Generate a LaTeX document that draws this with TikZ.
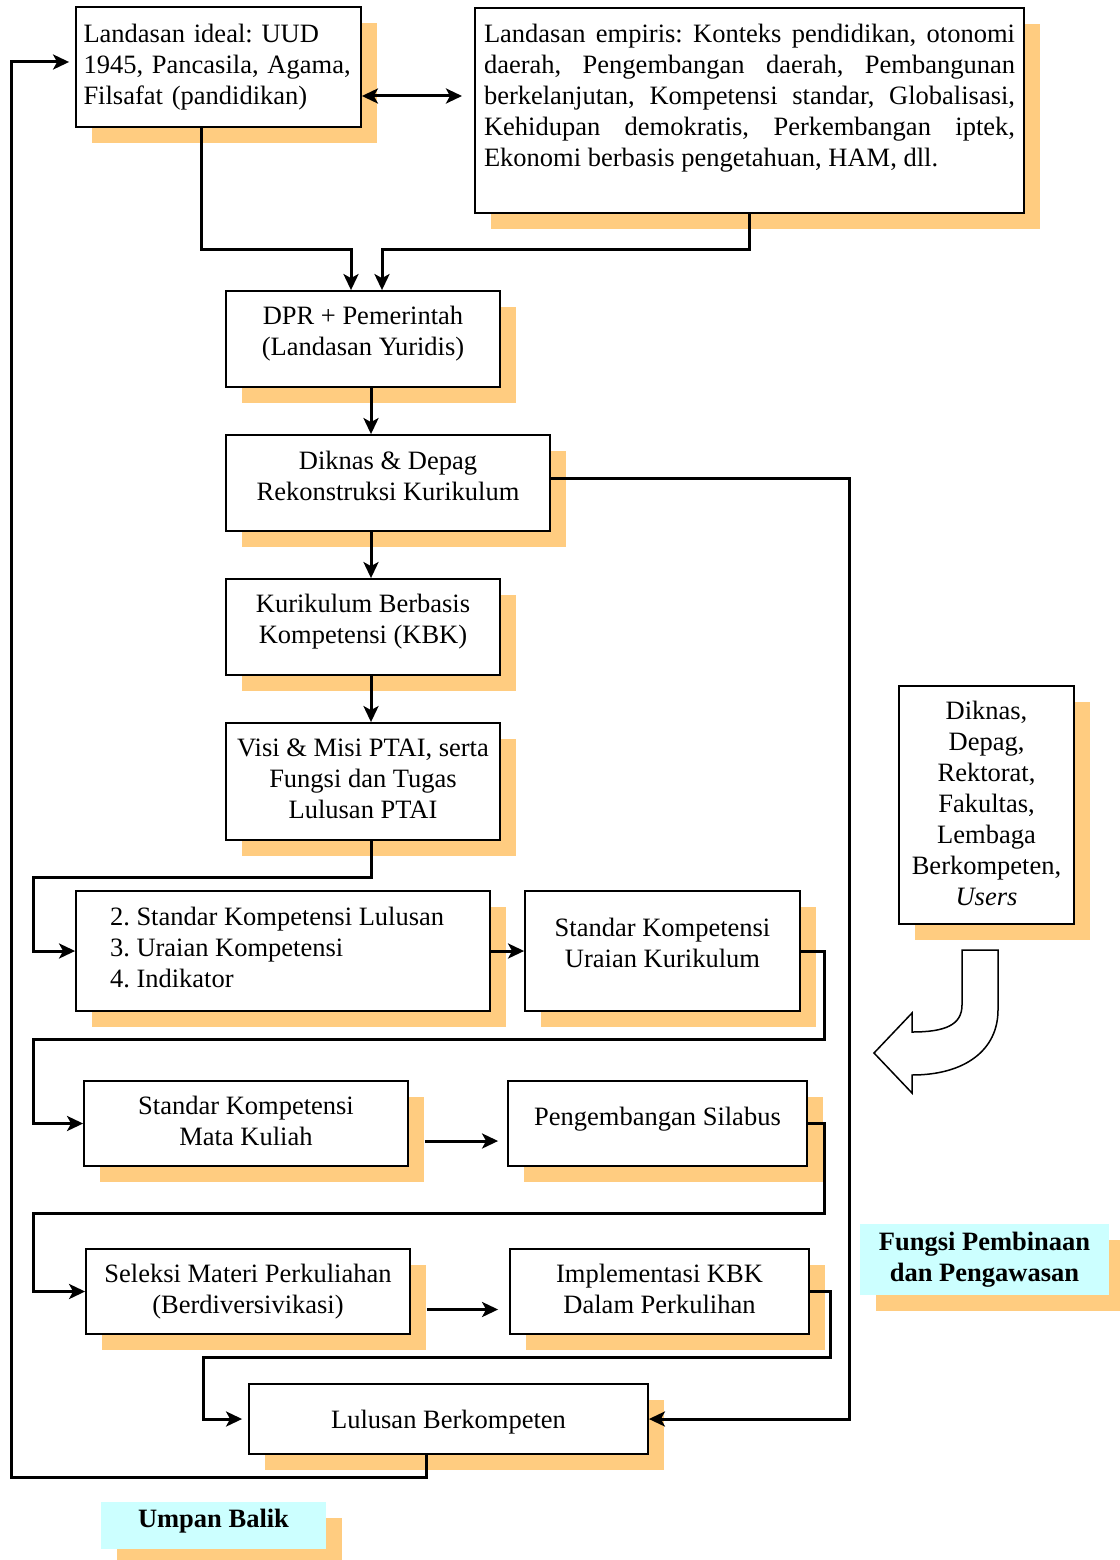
\documentclass[tikz,border=0pt]{standalone}
\usepackage{fontspec}
\setmainfont{Liberation Serif}
\usepackage{tikz}
\usetikzlibrary{arrows.meta,shadows,positioning}
\definecolor{shade}{RGB}{255,204,128}
\definecolor{tagcyan}{RGB}{204,255,255}
\frenchspacing

\begin{document}
\begin{tikzpicture}[
	x=1pt, y=-1pt,
	font=\fontsize{26.5}{31}\selectfont,
	>={Stealth[length=16pt,width=15pt,inset=4pt]},
	box/.style={draw, line width=1.8pt, fill=white, inner sep=0pt, general shadow={fill=shade, shadow xshift=16pt, shadow yshift=-16pt}},
	tagbox/.style={fill=tagcyan, inner sep=0pt, align=center, font=\fontsize{26.5}{31}\selectfont\bfseries, general shadow={fill=shade, shadow xshift=16pt, shadow yshift=-16pt}},
	link/.style={line width=3pt},
]
\useasboundingbox (0,0) rectangle (1119,1560);

\node[box, minimum width=285, minimum height=120, text width=270, align=left] (ideal) at (218.5,67) {Landasan ideal: UUD\\ 1945, Pancasila, Agama,\\ Filsafat (pandidikan)};
\node[box, minimum width=549, minimum height=205, text width=531, align=justify] (empiris) at (749.5,110.5) {Landasan empiris: Konteks pendidikan, otonomi\linebreak daerah, Pengembangan daerah, Pembangunan\linebreak berkelanjutan, Kompetensi standar, Globalisasi,\linebreak Kehidupan demokratis, Perkembangan iptek,\linebreak Ekonomi berbasis pengetahuan, HAM, dll.\par\noindent\rule{0pt}{1pt}};
\node[box, minimum width=274, minimum height=96, align=center, text depth=16pt] (dpr) at (363,339) {DPR + Pemerintah\\ (Landasan Yuridis)};
\node[box, minimum width=324, minimum height=96, align=center, text depth=14pt] (diknas) at (388,483) {Diknas \& Depag\\ Rekonstruksi Kurikulum};
\node[box, minimum width=274, minimum height=96, align=center, text depth=16pt] (kbk) at (363,627) {Kurikulum Berbasis\\ Kompetensi (KBK)};
\node[box, minimum width=274, minimum height=117, align=center, text depth=6pt] (visi) at (363,781.5) {Visi \& Misi PTAI, serta\\ Fungsi dan Tugas\\ Lulusan PTAI};
\node[box, minimum width=414, minimum height=120, text width=346, align=left, text depth=70pt] (std) at (283,951) {\spaceskip=0pt 2. Standar Kompetensi Lulusan\\ 3. Uraian Kompetensi\\ 4. Indikator};
\node[box, minimum width=275, minimum height=120, align=center, text depth=16pt] (uraian) at (662.5,951) {Standar Kompetensi\\ Uraian Kurikulum};
\node[box, minimum width=324, minimum height=85, align=center, text depth=6pt] (skmk) at (246,1123.5) {Standar Kompetensi\\ Mata Kuliah};
\node[box, minimum width=299, minimum height=85, align=center, text depth=14pt] (silabus) at (657.5,1123.5) {Pengembangan Silabus};
\node[box, minimum width=324, minimum height=85, align=center] (seleksi) at (248,1291.5) {Seleksi Materi Perkuliahan\\ (Berdiversivikasi)};
\node[box, minimum width=299, minimum height=85, align=center, text depth=6pt] (impl) at (659.5,1291.5) {Implementasi KBK\\ Dalam Perkulihan};
\node[box, minimum width=399, minimum height=70, align=center, text depth=0pt] (lulusan) at (448.5,1419) {Lulusan Berkompeten};
\node[box, minimum width=175, minimum height=238, align=center, text depth=4pt] (users) at (986.5,805) {Diknas,\\ Depag,\\ Rektorat,\\ Fakultas,\\ Lembaga\\ Berkompeten,\\ \textit{Users}};
\node[tagbox, minimum width=249, minimum height=71] (fungsi) at (984.5,1259.5) {Fungsi Pembinaan\\ dan Pengawasan};
\node[tagbox, minimum width=225, minimum height=47, text depth=14pt] (umpan) at (213.5,1525.5) {Umpan Balik};

\coordinate (gap) at (462,96);
\coordinate (spine) at (371,0);

\draw[link,->] ([xshift=-17.5]ideal.south) -- ++(0,122) -| ([xshift=-12]dpr.north);
\draw[link,->] (empiris.south) -- ++(0,36) -| ([xshift=19]dpr.north);
\draw[link,<->] (ideal.east |- gap) -- (gap);
\draw[link,->] (dpr.south -| spine) -- (diknas.north -| spine);
\draw[link,->] (diknas.south -| spine) -- (kbk.north -| spine);
\draw[link,->] (kbk.south -| spine) -- (visi.north -| spine);
\draw[link,->] (visi.south -| spine) -- ++(0,37) -| ([xshift=-42]std.west) -- (std.west);
\draw[link,->] (std.east) -- (uraian.west);
\draw[link,->] (uraian.east) -- ++(24,0) -- ++(0,88) -| ([xshift=-50]skmk.west) -- (skmk.west);
\draw[link,->] ([xshift=16,yshift=-17.5]skmk.east) -- ([xshift=-9,yshift=-17.5]silabus.west);
\draw[link,->] (silabus.east) -- ++(17,0) -- ++(0,90) -| ([xshift=-52]seleksi.west) -- (seleksi.west);
\draw[link,->] ([xshift=16,yshift=-18]seleksi.east) -- ([xshift=-11,yshift=-18]impl.west);
\draw[link,->] (impl.east) -- ++(21,0) -- ++(0,66) -| ([xshift=-45]lulusan.west) -- ([xshift=-6]lulusan.west);
\draw[link,->] ([yshift=5]diknas.east) -- ++(299,0) |- (lulusan.east);
\draw[link,->] ([xshift=-22.5]lulusan.south) -- ++(0,23) -| ([xshift=-64,yshift=5]ideal.west) -- ([xshift=-6,yshift=5]ideal.west);

\draw[line width=1.5pt, fill=white] (962,950) -- (998,950) -- (998,1010) .. controls (998,1050) and (965,1075) .. (912,1075) -- (912,1093) -- (874,1053) -- (912,1013) -- (912,1032) .. controls (945,1032) and (962,1025) .. (962,1005) -- cycle;

\end{tikzpicture}
\end{document}
